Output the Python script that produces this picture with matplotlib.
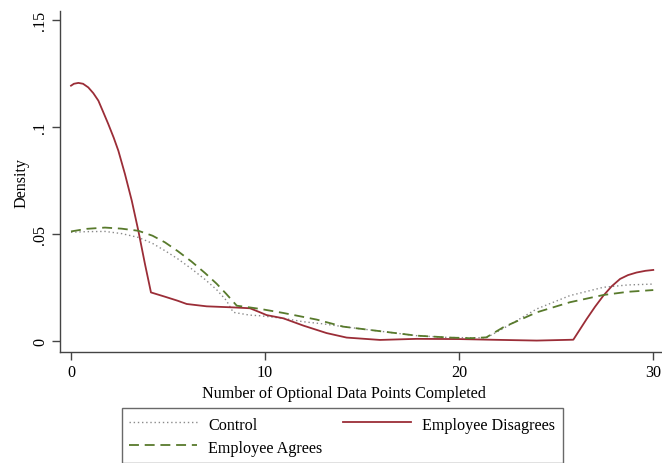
import matplotlib
matplotlib.use("Agg")
import matplotlib.pyplot as plt

plt.rcParams['font.family'] = ['Liberation Serif', 'DejaVu Serif']

# Control (dotted gray)
ctrl_x = [0, 0.8, 1.75, 2.6, 3.47, 4.2, 4.84, 5.5, 6.2, 6.9, 7.5, 8.0, 8.36, 9.2, 9.74, 10.94, 11.97, 13.0, 14.03, 16.09, 17.8, 19.53, 21.4, 22.3, 24.0, 25.7, 27.43, 28.7, 30.0]
ctrl_y = [0.0508, 0.0511, 0.0512, 0.0502, 0.0484, 0.0456, 0.0422, 0.0384, 0.0338, 0.0288, 0.0240, 0.0190, 0.0134, 0.0121, 0.0118, 0.0106, 0.0090, 0.0080, 0.0067, 0.0044, 0.0025, 0.0016, 0.0015, 0.0060, 0.0150, 0.0212, 0.0251, 0.0262, 0.0266]

# Employee Agrees (dashed green)
agree_x = [0, 0.8, 1.75, 2.6, 3.47, 4.2, 4.84, 5.5, 6.2, 6.9, 7.5, 8.0, 8.54, 9.2, 9.74, 10.94, 12.66, 14.03, 16.09, 17.8, 19.53, 20.56, 21.4, 22.27, 24.0, 25.7, 27.43, 28.7, 30.0]
agree_y = [0.0512, 0.0524, 0.0530, 0.0525, 0.0515, 0.0492, 0.0461, 0.0420, 0.0372, 0.0318, 0.0268, 0.0220, 0.0165, 0.0157, 0.0150, 0.0131, 0.0100, 0.0067, 0.0044, 0.0025, 0.0016, 0.0013, 0.0017, 0.0064, 0.0134, 0.0181, 0.0215, 0.0230, 0.0238]

# Employee Disagrees (solid red)
dis_x = [0, 0.15, 0.38, 0.62, 0.89, 1.15, 1.41, 1.65, 1.92, 2.2, 2.44, 2.78, 3.13, 3.47, 3.81, 4.12, 4.84, 5.5, 5.96, 6.99, 8.36, 9.22, 9.74, 10.08, 10.94, 11.97, 13.17, 14.2, 15.92, 17.8, 20.0, 21.6, 24.0, 25.88, 26.57, 27.0, 27.43, 27.85, 28.29, 28.7, 29.14, 29.6, 30.0]
dis_y = [0.1193, 0.1202, 0.1206, 0.1202, 0.1185, 0.1158, 0.1123, 0.1072, 0.1014, 0.0950, 0.0889, 0.0780, 0.0656, 0.0515, 0.0360, 0.0227, 0.0207, 0.0188, 0.0173, 0.0162, 0.0157, 0.0153, 0.0134, 0.0121, 0.0106, 0.0072, 0.0037, 0.0016, 0.0005, 0.0010, 0.0009, 0.0006, 0.0002, 0.0006, 0.0103, 0.0160, 0.0212, 0.0255, 0.0290, 0.0308, 0.0320, 0.0328, 0.0332]

xticks = [0, 10, 20, 30]
yticks = [0, 0.05, 0.1, 0.15]
ytick_labels = ['0', '.05', '.1', '.15']

W, H = 662, 464
fig = plt.figure(figsize=(W / 100, H / 100), dpi=100)
ax = fig.add_axes([60 / W, 1 - 353 / H, (W - 60) / W, (353 - 12) / H])

spine_col = '#444444'
fs = 11.6

l1, = ax.plot(ctrl_x, ctrl_y, color='#8a8a8a', lw=1.0, linestyle=(0, (1, 2)), label='Control')
l3, = ax.plot(dis_x, dis_y, color='#9b2d37', lw=1.3, linestyle='-', label='Employee Disagrees')
l2, = ax.plot(agree_x, agree_y, color='#587a2c', lw=1.3, linestyle=(0, (5.5, 3.2)), label='Employee Agrees')

ax.set_xlim(-0.567, 30.45)
ax.set_ylim(-0.00514, 0.1542)
ax.set_xticks(xticks)
ax.set_xticklabels([str(t) for t in xticks], fontsize=fs)
ax.set_yticks(yticks)
ax.set_yticklabels(ytick_labels, fontsize=fs, rotation=90, va='center')
ax.tick_params(axis='both', direction='out', length=5.5, width=1.0, color=spine_col, pad=3)
for s in ['top', 'right']:
    ax.spines[s].set_visible(False)
for s in ['left', 'bottom']:
    ax.spines[s].set_color(spine_col)
    ax.spines[s].set_linewidth(1.0)

ax.set_xlabel('Number of Optional Data Points Completed', fontsize=fs, labelpad=3.5)
ax.xaxis.label.set_x((344 - 60) / (W - 60))
ax.set_ylabel('Density', fontsize=fs, labelpad=1.8)

leg = fig.legend(handles=[l1, l2, l3], ncol=2, loc='upper left',
                 bbox_to_anchor=(122 / W, 1 - 409 / H),
                 fontsize=fs, frameon=True, fancybox=False, handlelength=4.2,
                 handleheight=1.3, handletextpad=0.7, columnspacing=1.3,
                 borderpad=0.45, labelspacing=0.25, borderaxespad=0)
leg.get_frame().set_edgecolor(spine_col)
leg.get_frame().set_linewidth(1.0)

fig.savefig('out.png', dpi=100)
